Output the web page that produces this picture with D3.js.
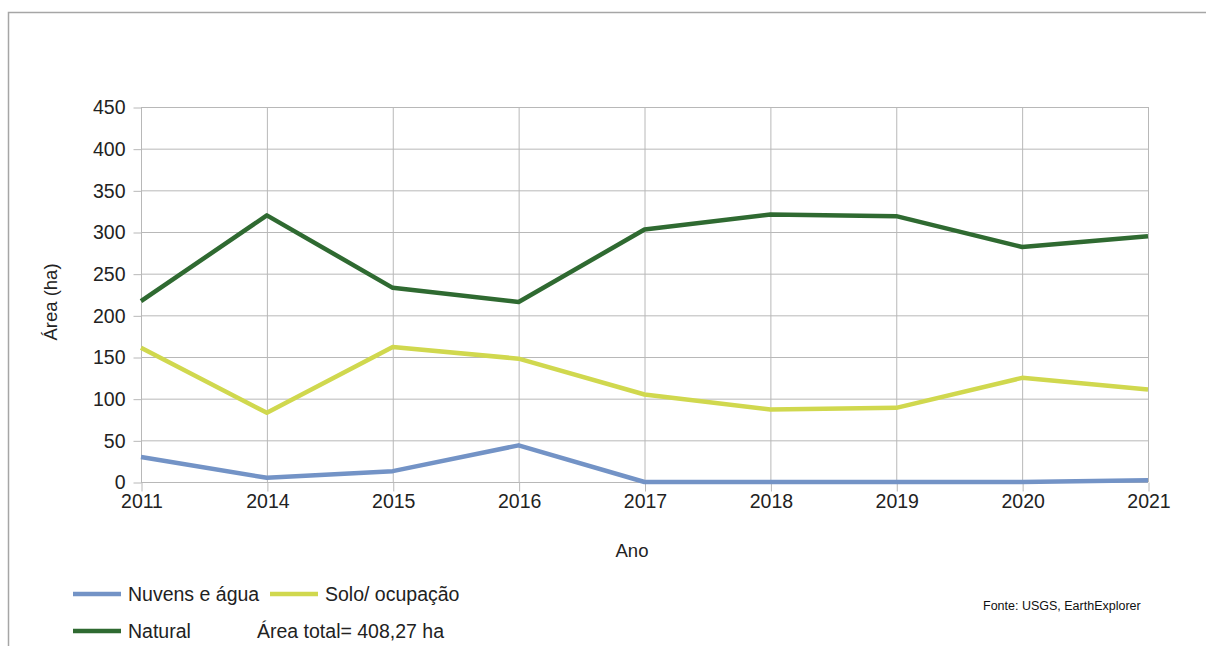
<!DOCTYPE html>
<html>
<head>
<meta charset="utf-8">
<script src="https://cdn.jsdelivr.net/npm/d3@7"></script>
<style>
  body { margin: 0; background: #fff; }
  svg { display: block; font-family: "Liberation Sans", Arial, sans-serif; }
</style>
</head>
<body>
<svg id="chart" width="1206" height="646"></svg>
<script>
// Land-cover areas (ha) per year
const years = ["2011", "2014", "2015", "2016", "2017", "2018", "2019", "2020", "2021"];
const nuvens = [30, 5, 13, 44, 0, 0, 0, 0, 2];
const solo = [161, 83, 162, 148, 105, 87, 89, 125, 111];
const natural = [217, 320, 233, 216, 303, 321, 319, 282, 295];
const yTicks = [0, 50, 100, 150, 200, 250, 300, 350, 400, 450];

const series = [
  { name: "Nuvens e água", values: nuvens, color: "#7393c6" },
  { name: "Solo/ ocupação", values: solo, color: "#d0d84e" },
  { name: "Natural", values: natural, color: "#2f6a31" }
];

const svg = d3.select("#chart");
const plotLeft = 141, plotRight = 1148, plotTop = 107, plotBottom = 482;

// outer frame
svg.append("path")
  .attr("d", "M8.5,646 V12.5 H1206")
  .attr("fill", "none").attr("stroke", "#a6a6a6").attr("stroke-width", 1.5);

const x = d3.scalePoint().domain(years).range([plotLeft, plotRight]);
const y = d3.scaleLinear().domain([0, 450]).range([plotBottom, plotTop]);

// grid
const grid = svg.append("g").attr("stroke", "#b8b8b8").attr("stroke-width", 1);
grid.selectAll("line.h").data(yTicks).join("line").attr("class", "h")
  .attr("x1", plotLeft).attr("x2", plotRight)
  .attr("y1", d => y(d) + 0.5).attr("y2", d => y(d) + 0.5);
grid.selectAll("line.v").data(years).join("line").attr("class", "v")
  .attr("x1", d => x(d) + 0.5).attr("x2", d => x(d) + 0.5)
  .attr("y1", plotTop).attr("y2", plotBottom);

// axes
const yAxis = svg.append("g").attr("transform", `translate(${plotLeft + 0.5},0.5)`)
  .call(d3.axisLeft(y).tickValues(yTicks).tickSize(8).tickPadding(8));
const xAxis = svg.append("g").attr("transform", `translate(0.5,${plotBottom + 0.5})`)
  .call(d3.axisBottom(x).tickSize(9).tickPadding(3));
[yAxis, xAxis].forEach(a => {
  a.select(".domain").remove();
  a.selectAll(".tick line").attr("stroke", "#b8b8b8");
  a.selectAll(".tick text").attr("fill", "#222").style("font-size", "19.5px")
    .style("font-family", "'Liberation Sans', Arial, sans-serif");
});

// lines
const line = d3.line().x((d, i) => x(years[i])).y(d => y(d));
svg.append("g").selectAll("path").data(series).join("path")
  .attr("d", d => line(d.values))
  .attr("fill", "none").attr("stroke", d => d.color)
  .attr("stroke-width", 4.5).attr("stroke-linejoin", "round");

// axis titles
svg.append("text").attr("transform", "translate(57,302) rotate(-90)")
  .attr("text-anchor", "middle").attr("fill", "#222").style("font-size", "18.5px")
  .text("Área (ha)");
svg.append("text").attr("x", 632).attr("y", 557)
  .attr("text-anchor", "middle").attr("fill", "#222").style("font-size", "18.5px")
  .text("Ano");

// legend
const legendItems = [
  { s: series[0], lx: 73, ly: 594 },
  { s: series[1], lx: 270, ly: 594 },
  { s: series[2], lx: 73, ly: 631 }
];
const lg = svg.append("g");
legendItems.forEach(it => {
  lg.append("line").attr("x1", it.lx).attr("x2", it.lx + 48)
    .attr("y1", it.ly).attr("y2", it.ly)
    .attr("stroke", it.s.color).attr("stroke-width", 4.5);
  lg.append("text").attr("x", it.lx + 55).attr("y", it.ly + 7)
    .attr("fill", "#222").style("font-size", "19.5px").text(it.s.name);
});
lg.append("text").attr("x", 257).attr("y", 638)
  .attr("fill", "#222").style("font-size", "19.5px").text("Área total= 408,27 ha");

svg.append("text").attr("x", 983).attr("y", 610)
  .attr("fill", "#111").style("font-size", "12.5px")
  .text("Fonte: USGS, EarthExplorer");
</script>
</body>
</html>
